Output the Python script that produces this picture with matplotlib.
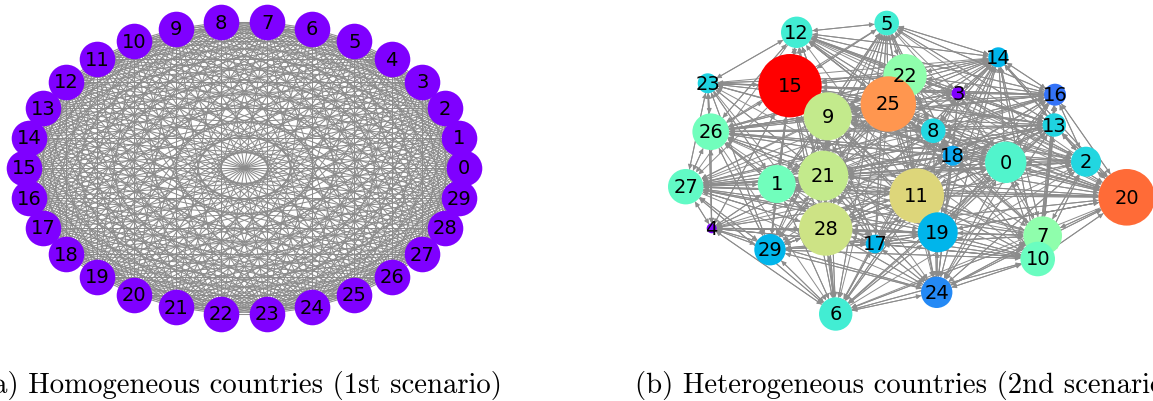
import numpy as np
import matplotlib
matplotlib.use("Agg")
import matplotlib.pyplot as plt
from matplotlib.collections import LineCollection
from matplotlib.patches import FancyArrowPatch

W, H = 1153, 402

# ---------------- data ----------------
n_left = 30
left_color = "#7f00ff"

right_nodes = list(range(30))
right_x = [1005.7, 776.7, 1086.0, 958.3, 711.7, 886.7, 835.7, 1042.7, 933.3, 827.7,
           1037.7, 916.7, 796.7, 1054.3, 998.3, 790.0, 1055.0, 875.0, 952.7, 937.7,
           1126.7, 823.3, 905.0, 707.7, 936.7, 888.3, 710.7, 685.7, 825.7, 770.0]
right_y = [163.3, 185.0, 162.7, 94.3, 229.3, 24.0, 315.0, 236.7, 131.7, 117.3,
           260.0, 196.7, 33.3, 126.0, 58.3, 86.7, 95.7, 245.0, 156.7, 233.3,
           198.3, 176.7, 76.7, 84.3, 293.3, 105.0, 132.7, 187.7, 230.0, 250.7]
right_radius = [20.7, 19.0, 15.0, 6.7, 5.0, 12.3, 16.7, 19.3, 12.3, 24.0,
                17.3, 27.3, 15.7, 11.7, 10.0, 31.7, 11.0, 9.3, 10.0, 20.0,
                28.3, 25.0, 21.7, 10.0, 15.7, 27.7, 18.3, 17.7, 26.7, 15.7]
right_value = [0.41, 0.47, 0.32, 0.0, 0.0, 0.38, 0.38, 0.53, 0.32, 0.63,
               0.46, 0.68, 0.38, 0.31, 0.25, 1.0, 0.15, 0.25, 0.23, 0.25,
               0.86, 0.63, 0.53, 0.31, 0.18, 0.80, 0.47, 0.44, 0.65, 0.25]
draw_order = [0, 1, 2, 3, 4, 5, 6, 7, 8, 10, 11, 12, 13, 14, 15, 9, 16, 17, 18, 19,
              20, 21, 22, 23, 24, 25, 26, 27, 28, 29]

edges_out = [
    "12 5 14 16 2 20 7 10 24 6 29 27 26 23 15 9 21",
    "12 5 15 23 26 27 4 29 6 28 21 9 25 22 14 16 20 2 13",
    "20 16 13 14 0 7 10 24 11 18 8 3 26 27 5",
    "14 16 13 8 18 22 25 12 23 15 26 27 0 2 20 24 6",
    "27 26 29 6 28 21 1 15 23 17 19 24 11 18 0 10 7",
    "12 22 25 14 3 16 13 8 9 21 15 28 1 29 17 11 6 26 18 24",
    "29 4 27 28 21 1 9 15 12 5 17 11 19 24 10 7 0 18 13 2",
    "10 20 2 13 16 14 0 18 8 3 11 19 24 6 29 27 26 1 21",
    "14 16 13 2 20 0 18 3 22 25 12 5 9 15 26 27 29 6 24",
    "12 5 15 23 26 27 1 21 28 29 6 22 25 14 16 13 2 20 11 19",
    "7 20 2 13 16 14 0 18 11 19 24 6 28 17 29 4 27 26",
    "12 5 14 16 13 2 20 0 18 7 10 24 19 17 6 28 29 4 27 1 26 23 15 9 25 22 3 8",
    "5 23 15 26 9 21 25 22 14 3 16 13 8 18 0 2 20 29 27",
    "16 14 2 20 0 7 10 24 19 11 18 8 3 25 22 9 15 12 5 26 27 1 21 28",
    "22 25 3 16 13 0 18 8 2 20 11 19 24 7 10 17 28 21 9 15 12 5 26",
    "12 5 23 26 27 1 21 28 29 4 6 17 11 19 24 25 22 14 3 16 13 8 18 0 2 20 7 10",
    "14 13 2 20 0 7 10 24 19 18 8 3 22 25 12 5 9 15 23 26 27",
    "28 21 1 29 6 24 19 11 18 0 7 10 20 8 25 9 15 12 5 26 27 4",
    "14 3 16 13 2 20 0 7 10 24 19 11 17 6 29 28 21 1 27 26 9 15 12 5 25 8",
    "24 6 17 11 18 0 7 10 20 2 13 16 14 25 9 21 28 29 4 27 1 26 15",
    "2 16 13 7 10 0 11 19 18 14 8 25 9 21 26 27 1 24 6 28 17 3",
    "12 5 15 23 26 27 1 4 29 28 6 17 11 19 24 25 22 14 3 16 13 8 18 0 2 20",
    "12 5 14 3 16 13 8 25 15 23 26 9 21 1 27 0 2 20",
    "12 15 26 27 9 25 22 3 16 21 1 14 29 4 28",
    "6 19 11 17 28 21 10 7 0 18 14 2 8 29 4 13 20",
    "12 5 14 3 16 13 8 22 15 23 26 9 21 1 27 28 29 11 18 0 2 20 7 10 24 6 19",
    "23 27 12 15 9 21 28 0 13 16 3 8 29 6 4 1 2 20 14 22 25",
    "26 23 1 21 28 19 11 0 4 29 18 7 20 2 13 16 6 10 24",
    "29 4 27 26 1 21 9 15 12 5 17 6 24 19 11 18 0 7 10 20 2 13 14 16",
    "4 27 26 1 21 28 6 11 17 19 24 12 15 9 23 10 7 0 18",
]

caption_a = "(a) Homogeneous countries (1st scenario)"
caption_b = "(b) Heterogeneous countries (2nd scenario)"

# ---------------- figure ----------------
fig = plt.figure(figsize=(W / 100, H / 100), dpi=100)
PX2PT = 72 / 100

# Left panel: complete graph on circular layout
ax1 = fig.add_axes([2.3 / W, (H - 337.5) / H, 484 / W, 337 / H])
ax1.set_xlim(-1.1, 1.1)
ax1.set_ylim(-1.15, 1.15)
ax1.axis("off")
ang = 2 * np.pi * np.arange(n_left) / n_left
lx, ly = np.cos(ang), np.sin(ang)
segs = [[(lx[i], ly[i]), (lx[j], ly[j])] for i in range(n_left) for j in range(i + 1, n_left)]
ax1.add_collection(LineCollection(segs, colors="#8c8c8c", linewidths=0.75, zorder=1))
ax1.scatter(lx, ly, s=(2 * 17.8 * PX2PT) ** 2, c=left_color, linewidths=0, zorder=2)
for i in range(n_left):
    ax1.text(lx[i], ly[i], str(i), fontsize=14, ha="center", va="center", zorder=3)

# Right panel: directed heterogeneous network
ax2 = fig.add_axes([600 / W, 0, 553 / W, 1])
ax2.set_xlim(600, W)
ax2.set_ylim(H, 0)
ax2.axis("off")
for src, tgts in enumerate(edges_out):
    for t in tgts.split():
        t = int(t)
        arr = FancyArrowPatch((right_x[src], right_y[src]), (right_x[t], right_y[t]),
                              arrowstyle="-|>", mutation_scale=7, color="#8c8c8c",
                              lw=0.7, shrinkA=right_radius[src] * PX2PT,
                              shrinkB=right_radius[t] * PX2PT, zorder=1)
        ax2.add_patch(arr)
cmap = plt.get_cmap("rainbow")
ox = [right_x[i] for i in draw_order]
oy = [right_y[i] for i in draw_order]
os_ = [(2 * right_radius[i] * PX2PT) ** 2 for i in draw_order]
oc = [cmap(right_value[i]) for i in draw_order]
ax2.scatter(ox, oy, s=os_, c=oc, linewidths=0, zorder=2)
for i in right_nodes:
    ax2.text(right_x[i], right_y[i], str(i), fontsize=14, ha="center", va="center", zorder=3)

# Captions
fig.text(-18 / W, (H - 393) / H, caption_a, fontsize=20.7, family="cmr10", va="baseline", ha="left")
fig.text(635 / W, (H - 393) / H, caption_b, fontsize=20.7, family="cmr10", va="baseline", ha="left")

fig.savefig("out.png", dpi=100)
